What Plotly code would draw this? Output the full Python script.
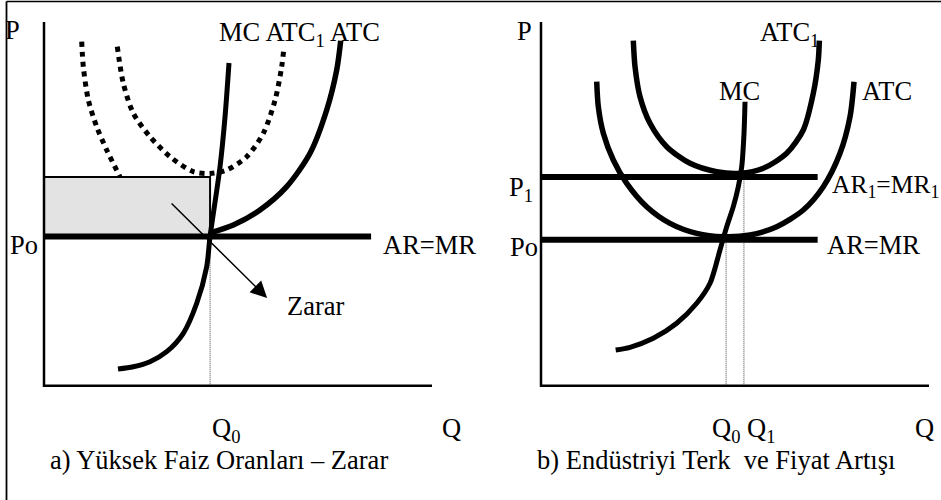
import plotly.graph_objects as go

# ---------------- data (economic units, axes run 0..10) ----------------
# Panel a: high interest rates - loss
a_po = 4.10          # price Po (AR=MR)
a_p_loss = 5.74      # top of loss rectangle (min ATC1)
a_q0 = 4.28          # output Q0
a_ar_end = 8.43      # extent of AR=MR line

a_mc_q = [1.907, 2.302, 2.732, 3.162, 3.590, 3.936, 4.193, 4.278, 4.536, 4.665, 4.768]
a_mc_p = [0.459, 0.522, 0.660, 0.935, 1.441, 2.266, 3.272, 4.089, 6.013, 7.388, 8.873]

a_atc_q = [4.278, 4.879, 5.567, 6.255, 6.856, 7.286, 7.544, 7.647]
a_atc_p = [4.199, 4.419, 4.831, 5.472, 6.390, 7.580, 8.680, 9.486]

a_atc1_q = [1.889, 2.044, 2.302, 2.732, 3.247, 3.848, 4.278, 4.709, 5.224, 5.652, 5.954, 6.126, 6.186]
a_atc1_p = [9.321, 8.315, 7.490, 6.846, 6.296, 5.884, 5.834, 5.931, 6.296, 6.940, 7.847, 8.771, 9.321]

a_atc1l_q = [0.972, 1.013, 1.142, 1.358, 1.616, 1.959]
a_atc1l_p = [9.458, 8.771, 7.860, 7.121, 6.481, 5.740]

a_arrow_tail = (3.25, 5.05)
a_arrow_head = (5.75, 2.41)

# Panel b: exit from industry and price rise
b_po = 4.01
b_p1 = 5.74
b_q0 = 4.77
b_q1 = 5.23
b_line_end = 7.13

b_mc_q = [1.925, 2.294, 2.894, 3.497, 4.013, 4.356, 4.613, 4.786, 4.956, 5.085, 5.173, 5.232, 5.258]
b_mc_p = [0.982, 1.056, 1.303, 1.716, 2.266, 2.816, 3.731, 4.372, 4.922, 5.472, 6.022, 6.940, 7.809]

b_atc_q = [1.436, 1.477, 1.606, 1.863, 2.209, 2.724, 3.325, 4.013, 4.698, 5.387, 6.075, 6.760, 7.276, 7.706, 7.964, 8.067]
b_atc_p = [8.359, 7.671, 6.940, 6.206, 5.565, 4.922, 4.465, 4.190, 4.097, 4.144, 4.372, 4.831, 5.472, 6.390, 7.396, 8.359]

b_atc1_q = [2.379, 2.423, 2.552, 2.809, 3.240, 3.840, 4.528, 5.129, 5.729, 6.332, 6.760, 7.018, 7.147, 7.173]
b_atc1_p = [9.486, 8.771, 7.946, 7.215, 6.571, 6.115, 5.884, 5.840, 5.977, 6.390, 7.031, 8.040, 8.955, 9.486]

axis_len = 10.0

caption_a = "a) Yüksek Faiz Oranları – Zarar"
caption_b = "b) Endüstriyi Terk \u00a0ve Fiyat Artışı"

# ---------------- figure ----------------
FONT = "Liberation Serif, Times New Roman, serif"
BLACK = "#000000"
FS = 26.5
fig = go.Figure()


def line(q, p, xa, ya, width=5.5, dash=None, color=BLACK, shape="spline", **kw):
    fig.add_trace(go.Scatter(
        x=q, y=p, xaxis=xa, yaxis=ya, mode="lines",
        line=dict(color=color, width=width, dash=dash, shape=shape, smoothing=0.8),
        hoverinfo="skip", **kw))


# ---- panel a ----
line([0, a_q0, a_q0, 0, 0], [a_po, a_po, a_p_loss, a_p_loss, a_po], "x", "y",
     width=2, shape="linear", fill="toself", fillcolor="#e3e3e3")
line(a_atc1l_q, a_atc1l_p, "x", "y", width=5, dash="5px,5px")
line(a_atc1_q, a_atc1_p, "x", "y", width=5, dash="5px,5px")
line([a_q0, a_q0], [0, a_po], "x", "y", width=1, dash="1px,1px", color="#444", shape="linear")
line(a_mc_q, a_mc_p, "x", "y", width=5)
line(a_atc_q, a_atc_p, "x", "y", width=5.5)
line([0, a_ar_end], [a_po, a_po], "x", "y", width=6, shape="linear")
line([0, 0, axis_len], [axis_len, 0, 0], "x", "y", width=2.5, shape="linear")

# ---- panel b ----
line([b_q0, b_q0], [0, b_po], "x2", "y2", width=1, dash="1px,1px", color="#444", shape="linear")
line([b_q1, b_q1], [0, b_p1], "x2", "y2", width=1, dash="1px,1px", color="#444", shape="linear")
line(b_atc1_q, b_atc1_p, "x2", "y2", width=5.5)
line(b_atc_q, b_atc_p, "x2", "y2", width=5.5)
line(b_mc_q, b_mc_p, "x2", "y2", width=5)
line([0, b_line_end], [b_p1, b_p1], "x2", "y2", width=6, shape="linear")
line([0, b_line_end], [b_po, b_po], "x2", "y2", width=6, shape="linear")
line([0, 0, axis_len], [axis_len, 0, 0], "x2", "y2", width=2.5, shape="linear")


# ---------------- labels ----------------
def label(text, x, y, xr, yr, xanchor="left", size=FS):
    fig.add_annotation(text=text, x=x, y=y, xref=xr, yref=yr, showarrow=False,
                       xanchor=xanchor, yanchor="middle",
                       font=dict(family=FONT, size=size, color=BLACK))


# panel a
label("P", -0.812, 9.78, "x", "y", xanchor="center")
label("MC ATC<sub>1</sub> ATC", 4.459, 9.68, "x", "y")
label("Po", -0.928, 3.87, "x", "y")
label("AR=MR", 8.686, 3.87, "x", "y")
label("Zarar", 6.211, 2.205, "x", "y")
label("Q<sub>0</sub>", a_q0, -1.22, "x", "y")
label("Q", 10.206, -1.15, "x", "y")
label(caption_a, 0.103, -2.03, "x", "y")

# panel b
label("P", -0.670, 9.74, "x2", "y2")
label("ATC<sub>1</sub>", 5.593, 9.66, "x2", "y2")
label("MC", 4.536, 8.103, "x2", "y2")
label("ATC", 8.222, 8.103, "x2", "y2")
label("P<sub>1</sub>", -0.876, 5.42, "x2", "y2")
label("AR<sub>1</sub>=MR<sub>1</sub>", 7.450, 5.49, "x2", "y2", size=25.5)
label("Po", -0.851, 3.814, "x2", "y2")
label("AR=MR", 7.320, 3.869, "x2", "y2")
label("Q<sub>0</sub> Q<sub>1</sub>", 4.356, -1.22, "x2", "y2")
label("Q", 9.588, -1.15, "x2", "y2")
label(caption_b, -0.155, -2.03, "x2", "y2")

# arrow pointing to the loss
fig.add_annotation(x=a_arrow_head[0], y=a_arrow_head[1], ax=a_arrow_tail[0], ay=a_arrow_tail[1],
                   xref="x", yref="y", axref="x", ayref="y", text="", showarrow=True,
                   arrowhead=2, arrowsize=2.2, arrowwidth=1.5, arrowcolor=BLACK, standoff=0)

# frame lines (top and left edge of the figure box)
fig.add_shape(type="line", xref="paper", yref="paper", x0=6.5 / 941, x1=1, y0=1 - 1.5 / 500, y1=1 - 1.5 / 500,
              line=dict(color=BLACK, width=1.5))
fig.add_shape(type="line", xref="paper", yref="paper", x0=6.5 / 941, x1=6.5 / 941, y0=0, y1=1 - 1.5 / 500,
              line=dict(color=BLACK, width=1.8))

axis_common = dict(visible=False, fixedrange=True, showgrid=False, zeroline=False)
fig.update_layout(
    width=941, height=500,
    margin=dict(l=0, r=0, t=0, b=0),
    paper_bgcolor="white", plot_bgcolor="white",
    showlegend=False,
    xaxis=dict(domain=[0, 0.5], range=[-1.134, 10.992], **axis_common),
    yaxis=dict(domain=[0, 1], range=[-3.143, 10.605], anchor="x", **axis_common),
    xaxis2=dict(domain=[0.5, 1], range=[-1.817, 10.309], anchor="y2", **axis_common),
    yaxis2=dict(domain=[0, 1], range=[-3.143, 10.605], anchor="x2", **axis_common),
)

fig.write_html("out.html", config={"displayModeBar": False},
               post_script="document.body.style.margin='0';document.body.style.overflow='hidden';")
